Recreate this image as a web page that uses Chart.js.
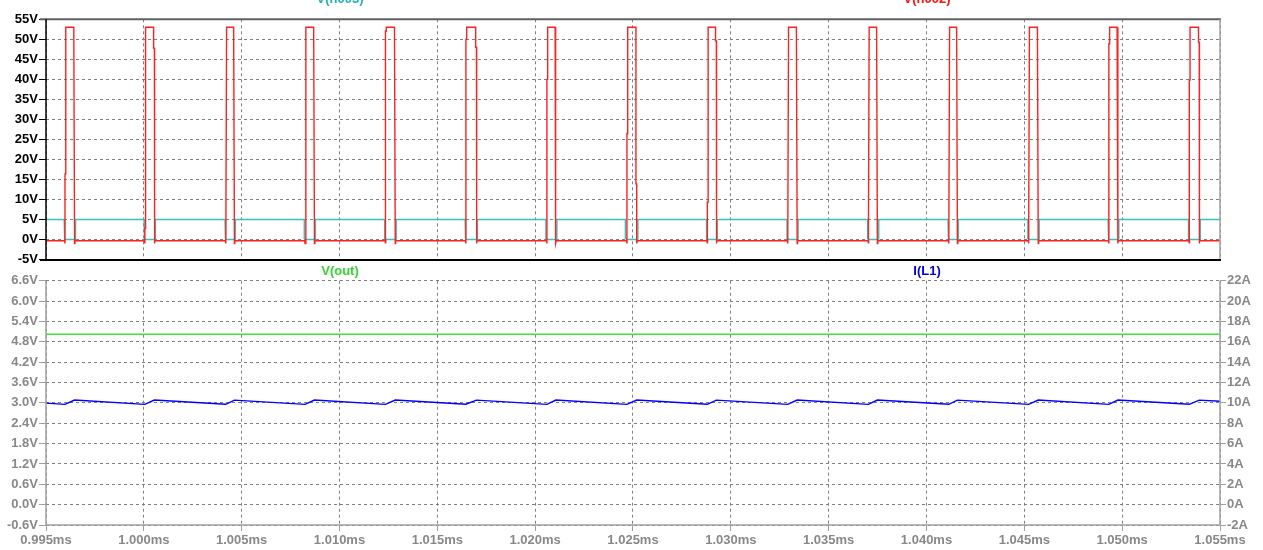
<!DOCTYPE html>
<html>
<head>
<meta charset="utf-8">
<script src="https://cdn.jsdelivr.net/npm/chart.js@4.4.0/dist/chart.umd.min.js"></script>
<style>
  html, body { margin: 0; padding: 0; background: #fff; overflow: hidden; }
  #paneTop { position: absolute; left: 0; top: 0; width: 1263px; height: 275px; }
  #paneBot { position: absolute; left: 0; top: 262px; width: 1263px; height: 288px; }
</style>
</head>
<body>
<div id="paneTop"><canvas id="topChart" width="1263" height="275"></canvas></div>
<div id="paneBot"><canvas id="botChart" width="1263" height="288"></canvas></div>
<script>
  // ---- axes ----
  const xTicks = [0.995, 1.000, 1.005, 1.010, 1.015, 1.020, 1.025, 1.030, 1.035, 1.040, 1.045, 1.050, 1.055];
  const xLabels = ['0.995ms', '1.000ms', '1.005ms', '1.010ms', '1.015ms', '1.020ms', '1.025ms', '1.030ms', '1.035ms', '1.040ms', '1.045ms', '1.050ms', '1.055ms'];
  const vTopTicks = [-5, 0, 5, 10, 15, 20, 25, 30, 35, 40, 45, 50, 55];
  const vTopLabels = ['-5V', '0V', '5V', '10V', '15V', '20V', '25V', '30V', '35V', '40V', '45V', '50V', '55V'];
  const voutTicks = [-0.6, 0.0, 0.6, 1.2, 1.8, 2.4, 3.0, 3.6, 4.2, 4.8, 5.4, 6.0, 6.6];
  const voutLabels = ['-0.6V', '0.0V', '0.6V', '1.2V', '1.8V', '2.4V', '3.0V', '3.6V', '4.2V', '4.8V', '5.4V', '6.0V', '6.6V'];
  const ampTicks = [-2, 0, 2, 4, 6, 8, 10, 12, 14, 16, 18, 20, 22];
  const ampLabels = ['-2A', '0A', '2A', '4A', '6A', '8A', '10A', '12A', '14A', '16A', '18A', '20A', '22A'];

  // ---- V(n002): switch node pulses (ms) ----
  const pulseRise = [0.99597, 1.00005, 1.00419, 1.00824, 1.01235, 1.01646, 1.02060, 1.02469, 1.02880, 1.03291, 1.03703, 1.04114, 1.04522, 1.04932, 1.05343];
  const pulseFall = [0.99646, 1.00054, 1.00463, 1.00872, 1.01285, 1.01700, 1.02106, 1.02519, 1.02926, 1.03339, 1.03749, 1.04158, 1.04571, 1.04978, 1.05394];
  // intermediate levels seen on some edges (V), null = clean edge
  const riseStep = [16.4, 2.8, null, null, 52, 50, 40, 26.4, 9.3, null, null, null, null, 48.9, 39.8];
  const fallStep = [null, 47.8, null, null, null, 48, 25, 13.9, 49.6, null, null, null, null, null, 49.3];
  const swHigh = 53.0;
  const swLow = -0.3;
  const swDip = -1.0;

  // ---- V(n003): gate drive, low while the switch is on ----
  const gateDown = [0.99593, 1.00001, 1.00415, 1.00820, 1.01231, 1.01642, 1.02055, 1.02461, 1.02876, 1.03287, 1.03699, 1.04110, 1.04518, 1.04928, 1.05339];
  const gateUp = [0.99651, 1.00059, 1.00468, 1.00877, 1.01290, 1.01705, 1.02111, 1.02525, 1.02931, 1.03344, 1.03756, 1.04163, 1.04576, 1.04983, 1.05399];
  const gateHigh = 5.0;
  const gateLow = 0.0;

  // ---- bottom pane ----
  const voutTimes = [0.995, 1.055];
  const voutVals = [5.02, 5.02];
  const ilValley = [9.85, 9.85, 9.86, 9.85, 9.85, 9.86, 9.85, 9.85, 9.86, 9.85, 9.85, 9.86, 9.85, 9.85, 9.86];
  const ilPeak = [10.28, 10.28, 10.27, 10.28, 10.28, 10.27, 10.28, 10.28, 10.27, 10.28, 10.28, 10.27, 10.28, 10.28, 10.27];
  const ilStart = 9.97;
  const ilEnd = 10.15;

  const edge = 0.00004; // edge width in ms (~1px)

  // build point tables
  const swPts = [{ x: 0.995, y: swLow }];
  pulseRise.forEach((r, i) => {
    const f = pulseFall[i];
    swPts.push({ x: r - edge / 2, y: swLow }, { x: r, y: swDip });
    if (riseStep[i] !== null) swPts.push({ x: r, y: riseStep[i] }, { x: r + edge, y: riseStep[i] });
    swPts.push({ x: r + edge, y: swHigh }, { x: f - edge, y: swHigh });
    if (fallStep[i] !== null) swPts.push({ x: f - edge, y: fallStep[i] }, { x: f, y: fallStep[i] });
    swPts.push({ x: f, y: swDip }, { x: f + edge / 2, y: swLow });
  });
  swPts.push({ x: 1.055, y: swLow });

  const gatePts = [{ x: 0.995, y: gateHigh }];
  gateDown.forEach((d, i) => {
    const u = gateUp[i];
    gatePts.push({ x: d, y: gateHigh }, { x: d, y: 0.3 }, { x: d + edge, y: 0.3 },
      { x: d + edge * 1.5, y: gateLow }, { x: u, y: gateLow }, { x: u, y: gateHigh });
  });
  gatePts.push({ x: 1.055, y: gateHigh });

  const voutPts = voutTimes.map((t, i) => ({ x: t, y: voutVals[i] }));

  const ilPts = [{ x: 0.995, y: ilStart }];
  pulseRise.forEach((r, i) => {
    ilPts.push({ x: r, y: ilValley[i] }, { x: pulseFall[i], y: ilPeak[i] });
  });
  ilPts.push({ x: 1.055, y: ilEnd });

  // ---- styling ----
  const FONT = { family: '"Liberation Sans", Arial, sans-serif', size: 13, weight: 'bold' };
  const GRID = '#808080';
  const GRAY_TXT = '#888888';
  const RED = '#ff2020';
  const CYAN = '#3cbfbf';
  const GREEN = '#3fe03f';
  const BLUE = '#0000ff';

  function fixTicks(values) {
    return scale => { scale.ticks = values.map(v => ({ value: v })); };
  }

  function line(data, color, axis) {
    return {
      data: data, borderColor: color, borderWidth: 1.4, pointRadius: 0,
      tension: 0, fill: false, yAxisID: axis || 'y'
    };
  }

  function label(ctx, text, x, y, color) {
    ctx.save();
    ctx.font = 'bold 13px "Liberation Sans", Arial, sans-serif';
    ctx.fillStyle = color;
    ctx.textAlign = 'center';
    ctx.textBaseline = 'alphabetic';
    ctx.fillText(text, x, y);
    ctx.restore();
  }

  function seg(ctx, x1, y1, x2, y2, color, w) {
    ctx.save();
    ctx.strokeStyle = color;
    ctx.lineWidth = w;
    ctx.beginPath();
    ctx.moveTo(x1, y1);
    ctx.lineTo(x2, y2);
    ctx.stroke();
    ctx.restore();
  }

  // ---- top pane ----
  const topFrame = {
    id: 'topFrame',
    afterDraw(chart) {
      const { ctx, chartArea: a } = chart;
      seg(ctx, 40, a.top, a.right + 1, a.top, '#606060', 2);
      seg(ctx, a.right, a.top, a.right, a.bottom, '#a0a0a0', 1.5);
      seg(ctx, a.left, a.top, a.left, a.bottom, '#000', 1.5);
      seg(ctx, 40, a.bottom + 0.5, a.right + 1, a.bottom + 0.5, '#000', 2);
      label(ctx, 'V(n003)', 340, 3, '#22b4b4');
      label(ctx, 'V(n002)', 927, 3, '#ff1010');
    }
  };

  new Chart(document.getElementById('topChart'), {
    type: 'line',
    data: { datasets: [line(swPts, RED), line(gatePts, CYAN)] },
    options: {
      responsive: false, animation: false, events: [],
      layout: { padding: { top: 19.3, bottom: 15.5, left: 0, right: 43 } },
      plugins: { legend: { display: false }, tooltip: { enabled: false } },
      scales: {
        x: {
          type: 'linear', min: 0.995, max: 1.055,
          afterBuildTicks: fixTicks(xTicks),
          afterFit: s => { s.height = 0; },
          ticks: { display: false },
          grid: { color: GRID, drawTicks: false },
          border: { display: false, dash: [3, 3] }
        },
        y: {
          min: -5, max: 55,
          afterBuildTicks: fixTicks(vTopTicks),
          afterFit: s => { s.width = 46; },
          ticks: { color: '#000', font: FONT, padding: 1, callback: (v, i) => vTopLabels[i] },
          grid: { color: GRID, tickColor: '#000', tickLength: 7 },
          border: { display: false, dash: [3, 3] }
        }
      }
    },
    plugins: [topFrame]
  });

  // ---- bottom pane ----
  const botFrame = {
    id: 'botFrame',
    afterDraw(chart) {
      const { ctx, chartArea: a } = chart;
      seg(ctx, a.left, a.top, a.left, a.bottom, '#a0a0a0', 1.5);
      seg(ctx, a.right, a.top, a.right, a.bottom, '#a0a0a0', 1.5);
      seg(ctx, a.left, a.bottom, a.right, a.bottom, '#a0a0a0', 1.5);
      label(ctx, 'V(out)', 340, 13, '#33d633');
      label(ctx, 'I(L1)', 927, 13, '#0000e0');
    }
  };

  new Chart(document.getElementById('botChart'), {
    type: 'line',
    data: { datasets: [line(voutPts, GREEN, 'y'), line(ilPts, BLUE, 'y1')] },
    options: {
      responsive: false, animation: false, events: [],
      layout: { padding: { top: 18.7, bottom: 0, left: 0, right: 0 } },
      plugins: { legend: { display: false }, tooltip: { enabled: false } },
      scales: {
        x: {
          type: 'linear', min: 0.995, max: 1.055,
          afterBuildTicks: fixTicks(xTicks),
          afterFit: s => { s.height = 25; },
          ticks: { color: GRAY_TXT, font: FONT, padding: 2, maxRotation: 0, autoSkip: false, callback: (v, i) => xLabels[i] },
          grid: { color: GRID, tickColor: '#a0a0a0', tickLength: 6 },
          border: { display: false, dash: [3, 3] }
        },
        y: {
          position: 'left', min: -0.6, max: 6.6,
          afterBuildTicks: fixTicks(voutTicks),
          afterFit: s => { s.width = 46; },
          ticks: { color: GRAY_TXT, font: FONT, padding: 1, callback: (v, i) => voutLabels[i] },
          grid: { color: GRID, tickColor: '#a0a0a0', tickLength: 7 },
          border: { display: false, dash: [3, 3] }
        },
        y1: {
          position: 'right', min: -2, max: 22,
          afterBuildTicks: fixTicks(ampTicks),
          afterFit: s => { s.width = 43; },
          ticks: { color: GRAY_TXT, font: FONT, padding: 1, callback: (v, i) => ampLabels[i] },
          grid: { drawOnChartArea: false, color: '#a0a0a0', tickLength: 6 },
          border: { display: false }
        }
      }
    },
    plugins: [botFrame]
  });
</script>
</body>
</html>
